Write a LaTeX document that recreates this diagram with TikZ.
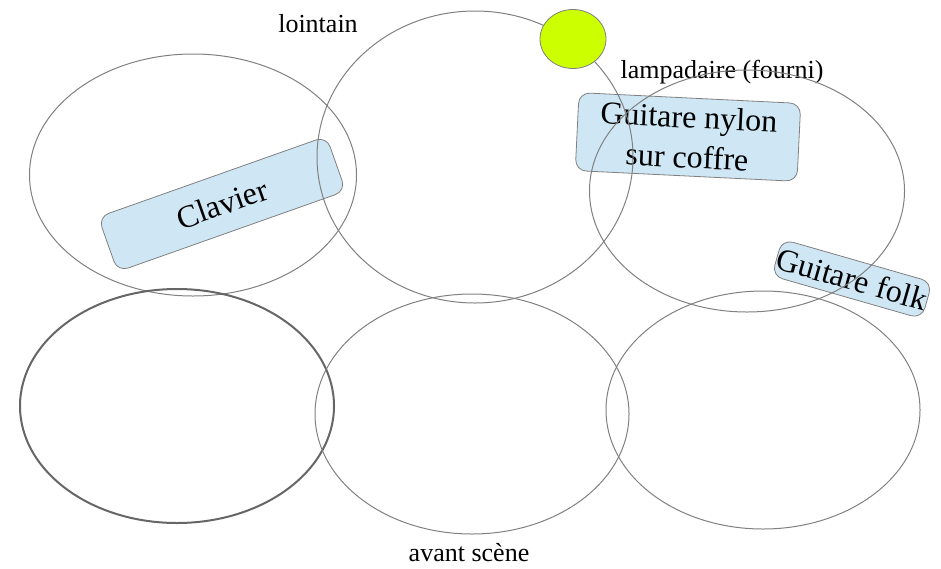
\documentclass[tikz,border=0pt]{standalone}
\usepackage{fontspec}
\setmainfont{Liberation Serif}
\usetikzlibrary{shapes.geometric}
\definecolor{boxfill}{HTML}{CFE7F5}
\definecolor{lampe}{HTML}{CCFF00}
\definecolor{ringc}{HTML}{808080}
\begin{document}
\begin{tikzpicture}[x=1pt,y=-1pt,
  ring/.style={draw=ringc,line width=1pt,ellipse,inner sep=0pt},
  tapebox/.style={rectangle,rounded corners=11pt,draw=ringc,fill=boxfill,line width=0.8pt,inner sep=0pt,
    align=center,font=\fontsize{32}{36}\selectfont},
  lbl/.style={font=\fontsize{26}{28}\selectfont,inner sep=0pt}]
\useasboundingbox (0,0) rectangle (941,568);
% boxes
\node[tapebox,minimum width=242pt,minimum height=58pt,rotate=19.5] (clavier) at (222,204) {Clavier};
\node[tapebox,minimum width=222pt,minimum height=78pt,rotate=-2.8] (nylon) at (688,137) {Guitare nylon\\[4pt]sur coffre};
\node[tapebox,minimum width=156pt,minimum height=38pt,rotate=-16] (folk) at (852,279) {Guitare folk};
% labels
\node[lbl] (lointain) at (318,24) {lointain};
\node[lbl] (lampadaire) at (722,72) {lampadaire (fourni)};
\node[lbl] (avant) at (469,553) {avant scène};
% rings
\node[ring,minimum width=327pt,minimum height=242pt] (e1) at (193,175) {};
\node[ring,minimum width=316pt,minimum height=292pt] (e2) at (475,157) {};
\node[ring,minimum width=315pt,minimum height=242pt] (e3) at (747,191) {};
\node[ring,draw=black!60,line width=2pt,minimum width=314pt,minimum height=234pt] (e4) at (177,406) {};
\node[ring,minimum width=314pt,minimum height=240pt] (e5) at (472,414) {};
\node[ring,minimum width=314pt,minimum height=238pt] (e6) at (763,410) {};
% lamp
\node[ellipse,draw=ringc,fill=lampe,line width=0.8pt,inner sep=0pt,minimum width=66pt,minimum height=59pt] (lamp) at (573,39) {};
\end{tikzpicture}
\end{document}
